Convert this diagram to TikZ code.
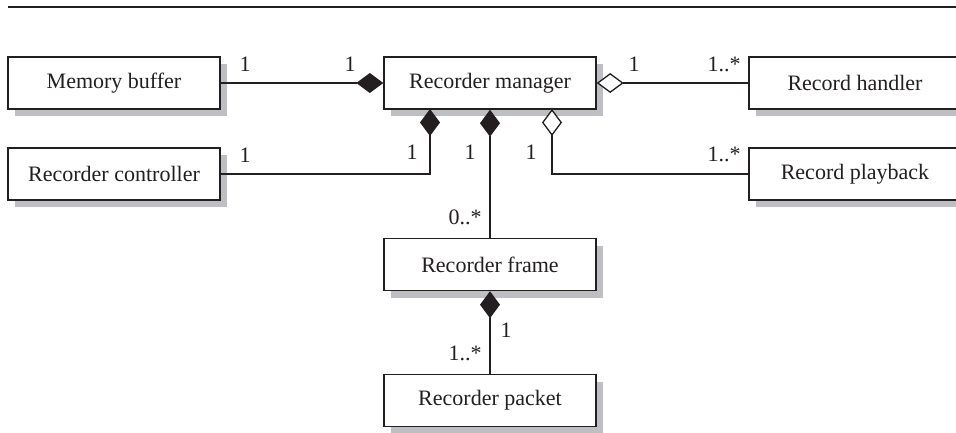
\documentclass[tikz,border=0pt]{standalone}
\usepackage{fontspec}
\setmainfont{Liberation Serif}
\usetikzlibrary{arrows.meta,shadows}
\definecolor{shadowgray}{RGB}{190,191,195}
\definecolor{ink}{RGB}{35,31,32}
\tikzset{
  cls/.style={draw=ink, line width=1.4pt, fill=white, minimum width=212pt, minimum height=52pt,
    inner sep=0pt, font=\fontsize{22}{26}\selectfont, text=ink,
    drop shadow={shadow xshift=7pt, shadow yshift=-7pt, fill=shadowgray, opacity=1}},
  conn/.style={draw=ink, line width=1.3pt},
  comp/.style={conn, -{Diamond[length=27pt,width=20pt,fill=ink]}},
  aggr/.style={conn, -{Diamond[length=27pt,width=20pt,open,fill=white]}},
  mult/.style={font=\fontsize{22}{26}\selectfont, text=ink, inner sep=0pt}
}
\begin{document}
\begin{tikzpicture}[x=1pt,y=-1pt]
\useasboundingbox (0,0) rectangle (956,432);
\clip (0,0) rectangle (956,432);
\draw[ink, line width=2.2pt] (8,7) -- (956,7);
\node[cls] (mb) at (114,83) {Memory buffer};
\node[cls] (rm) at (490,83) {Recorder manager};
\node[cls] (rh) at (855,83) {Record handler};
\node[cls] (rc) at (114,174) {Recorder controller};
\node[cls] (rp) at (855,174) {Record playback};
\node[cls] (rf) at (490,264.5) {Recorder frame};
\node[cls] (rk) at (490,400.5) {Recorder packet};
\coordinate (ma) at (430,109);
\coordinate (mc) at (552,109);
\draw[comp] (mb.east) -- (rm.west);
\draw[aggr] (rh.west) -- (rm.east);
\draw[comp] (rc.east) -| (ma);
\draw[comp] (rf.north) -- (rm.south);
\draw[aggr] (rp.west) -| (mc);
\draw[comp] (rk.north) -- (rf.south);
\node[mult] (l1) at (245,64) {1};
\node[mult] (l2) at (350,64) {1};
\node[mult] (l3) at (634,64) {1};
\node[mult] (l4) at (724,64) {1..*};
\node[mult] (l5) at (245,155) {1};
\node[mult] (l6) at (412,152) {1};
\node[mult] (l7) at (470,152) {1};
\node[mult] (l8) at (531,152) {1};
\node[mult] (l9) at (724,154) {1..*};
\node[mult] (l10) at (465,217) {0..*};
\node[mult] (l11) at (506,330) {1};
\node[mult] (l12) at (465,353) {1..*};
\end{tikzpicture}
\end{document}
